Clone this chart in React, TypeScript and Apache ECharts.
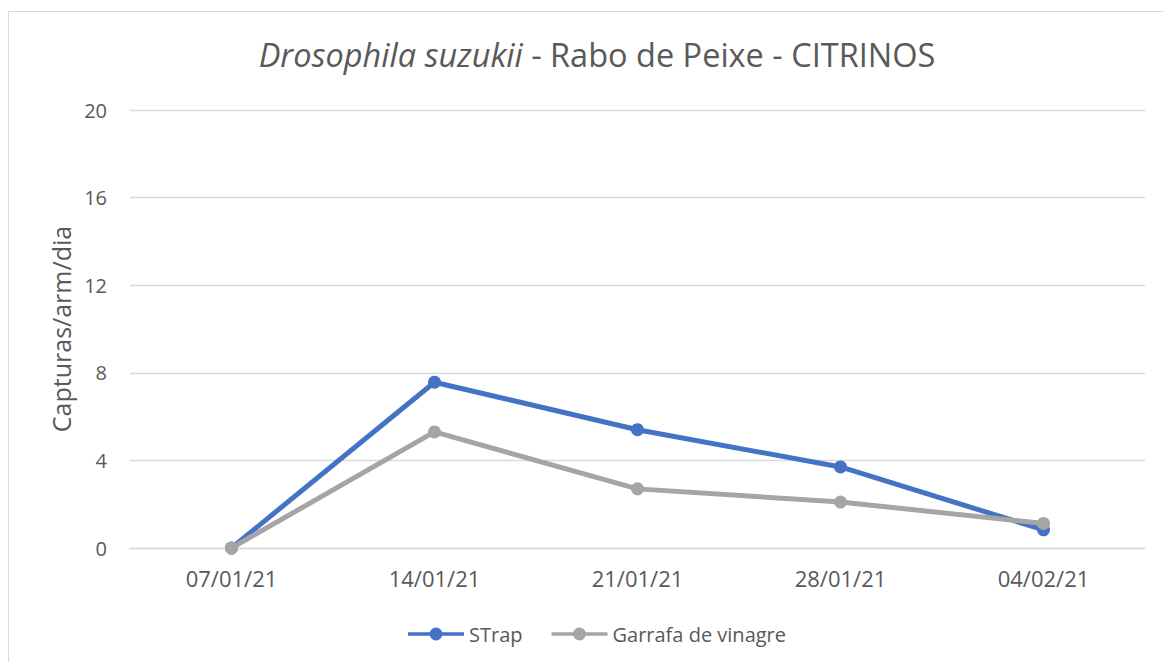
import React, { useEffect, useRef } from "react";
import * as echarts from "echarts";

const categories = ["07/01/21", "14/01/21", "21/01/21", "28/01/21", "04/02/21"];
const strapValues = [0, 7.57, 5.4, 3.7, 0.83];
const garrafaValues = [0, 5.3, 2.7, 2.1, 1.12];
const yTicks = [0, 4, 8, 12, 16, 20];

const FONT = "'Open Sans', 'Noto Sans', sans-serif";
const TXT = "#595959";
const ICON =
  "path://M0,4.75h56v3.5H0z M34.5,6.5a6.5,6.5 0 1,1 -13,0a6.5,6.5 0 1,1 13,0z";

export default function App() {
  const ref = useRef<HTMLDivElement>(null);
  useEffect(() => {
    if (!ref.current) return;
    const chart = echarts.init(ref.current, null, { renderer: "svg" });
    chart.setOption({
      animation: false,
      backgroundColor: "#ffffff",
      textStyle: { fontFamily: FONT },
      title: {
        text: "{i|Drosophila suzukii}{n| - Rabo de Peixe - CITRINOS}",
        left: 592,
        textAlign: "center",
        top: 33,
        textStyle: {
          fontWeight: "normal",
          rich: {
            i: { fontStyle: "italic", fontWeight: "normal", fontSize: 32.5, color: TXT, fontFamily: FONT },
            n: { fontWeight: "normal", fontSize: 32.5, color: TXT, fontFamily: FONT },
          },
        },
      },
      graphic: [
        {
          type: "rect",
          shape: { x: 8.5, y: 11.5, width: 1200, height: 700 },
          style: { fill: "none", stroke: "#d9d9d9", lineWidth: 1 },
          silent: true,
        },
      ],
      legend: {
        top: 619,
        left: 403,
        itemWidth: 56,
        itemHeight: 13,
        itemGap: 29,
        textStyle: { color: TXT, fontSize: 20, fontFamily: FONT },
        data: [
          { name: "STrap", icon: ICON },
          { name: "Garrafa de vinagre", icon: ICON },
        ],
      },
      grid: { left: 130, right: 19, top: 110, bottom: 114 },
      xAxis: {
        type: "category",
        data: categories,
        boundaryGap: true,
        axisLine: { lineStyle: { color: "#d9d9d9", width: 1.3 } },
        axisTick: { show: false },
        axisLabel: { color: TXT, fontSize: 22, margin: 19, fontFamily: FONT },
      },
      yAxis: {
        type: "value",
        min: yTicks[0],
        max: yTicks[yTicks.length - 1],
        interval: 4,
        name: "Capturas/arm/dia",
        nameLocation: "middle",
        nameGap: 57,
        nameTextStyle: { color: TXT, fontSize: 25, fontFamily: FONT },
        axisLine: { show: false },
        axisTick: { show: false },
        axisLabel: { color: TXT, fontSize: 20, margin: 23, fontFamily: FONT },
        splitLine: { lineStyle: { color: "#d9d9d9", width: 1.3 } },
      },
      series: [
        {
          name: "STrap",
          type: "line",
          data: strapValues,
          symbol: "circle",
          symbolSize: 13,
          color: "#4472C4",
          lineStyle: { width: 5, color: "#4472C4" },
          itemStyle: { color: "#4472C4" },
        },
        {
          name: "Garrafa de vinagre",
          type: "line",
          data: garrafaValues,
          symbol: "circle",
          symbolSize: 13,
          color: "#A5A5A5",
          lineStyle: { width: 5, color: "#A5A5A5" },
          itemStyle: { color: "#A5A5A5" },
        },
      ],
    });
    return () => chart.dispose();
  }, []);
  return (
    <div
      ref={ref}
      style={{ position: "fixed", left: 0, top: 0, width: 1164, height: 662 }}
    />
  );
}
